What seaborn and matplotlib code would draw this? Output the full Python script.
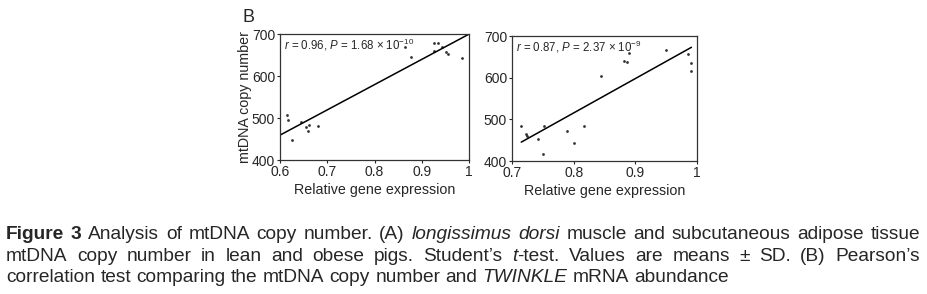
import numpy as np
import pandas as pd
import matplotlib
matplotlib.use("Agg")
import matplotlib.pyplot as plt
import seaborn as sns

# panel B, left: first tissue
left_x = [0.6155, 0.6176, 0.6246, 0.644, 0.655, 0.661, 0.660, 0.681,
          0.865, 0.878, 0.925, 0.935, 0.925, 0.943, 0.951, 0.955, 0.985]
left_y = [508, 495, 447, 490, 479, 483, 469, 481,
          668, 646, 678, 679, 659, 668, 657, 653, 643]
# panel B, right: second tissue
right_x = [0.715, 0.723, 0.725, 0.742, 0.752, 0.751, 0.789, 0.801, 0.817,
           0.845, 0.881, 0.887, 0.889, 0.949, 0.986, 0.991, 0.991]
right_y = [484, 466, 460, 452, 485, 418, 473, 443, 484,
           605, 640, 638, 659, 667, 658, 635, 617]

left_ticks = [0.6, 0.7, 0.8, 0.9, 1.0]
left_ticklabels = ["0.6", "0.7", "0.8", "0.9", "1"]
right_ticks = [0.7, 0.8, 0.9, 1.0]
right_ticklabels = ["0.7", "0.8", "0.9", "1"]
y_ticks = [400, 500, 600, 700]

left_note = r"$r$ = 0.96, $P$ = 1.68 × 10$^{-10}$"
right_note = r"$r$ = 0.87, $P$ = 2.37 × 10$^{-9}$"

sns.set_style("ticks")
plt.rcParams["font.family"] = ["Liberation Sans", "DejaVu Sans"]
plt.rcParams["mathtext.fontset"] = "custom"
plt.rcParams["mathtext.it"] = "Liberation Sans:italic"
plt.rcParams["mathtext.rm"] = "Liberation Sans"

W, H = 927, 294
fig = plt.figure(figsize=(W / 100, H / 100), dpi=100)

def px_axes(x0, y0, x1, y1):
    return fig.add_axes([x0 / W, 1 - y1 / H, (x1 - x0) / W, (y1 - y0) / H])

ax1 = px_axes(280, 34, 469, 160)
ax2 = px_axes(512, 36, 697, 161)

df1 = pd.DataFrame({"x": left_x, "y": left_y})
df2 = pd.DataFrame({"x": right_x, "y": right_y})

ax1.set_xlim(0.6, 1.0)
ax2.set_xlim(0.7, 1.0)
for ax, df, trunc in [(ax1, df1, False), (ax2, df2, True)]:
    sns.regplot(data=df, x="x", y="y", ax=ax, ci=None, truncate=trunc,
                color="black", scatter_kws={"s": 4, "linewidths": 0},
                line_kws={"lw": 1.1})
    ax.set_ylim(400, 700)
    ax.set_yticks(y_ticks)
    ax.tick_params(labelsize=10, length=2.5, width=0.8, pad=1)
    for s in ax.spines.values():
        s.set_linewidth(0.9)
        s.set_color("#333333")
    ax.set_xlabel("Relative gene expression", fontsize=10.3, labelpad=3)
    ax.set_ylabel("")

ax1.set_xticks(left_ticks)
ax1.set_xticklabels(left_ticklabels)
ax2.set_xticks(right_ticks)
ax2.set_xticklabels(right_ticklabels)
ax1.set_ylabel("mtDNA copy number", fontsize=10.3, labelpad=0)

ax1.text(0.02, 0.975, left_note, transform=ax1.transAxes, fontsize=8.3, va="top", ha="left")
ax2.text(0.02, 0.975, right_note, transform=ax2.transAxes, fontsize=8.3, va="top", ha="left")

fig.text(243 / W, 1 - 17 / H, "B", fontsize=13, ha="left", va="center")

# caption, laid out word by word so the first two lines are justified
cap_font = ["Liberation Sans", "DejaVu Sans"]
cap_size = 13.8

def words(s, weight="normal", style="normal"):
    return [[(w, weight, style)] for w in s.split()]

line1 = (words("Figure 3", "bold") + words("Analysis of mtDNA copy number. (A)")
         + words("longissimus dorsi", style="italic")
         + words("muscle and subcutaneous adipose tissue"))
line2 = (words("mtDNA copy number in lean and obese pigs. Student\u2019s")
         + [[("t", "normal", "italic"), ("-test.", "normal", "normal")]]
         + words("Values are means \u00b1 SD. (B) Pearson\u2019s"))
line3 = (words("correlation test comparing the mtDNA copy number and")
         + words("TWINKLE", style="italic") + words("mRNA abundance"))

renderer = fig.canvas.get_renderer()

def lay_line(tokens, ypx, x0=6, x1=920, justify=True):
    items = []
    total = 0
    for tok in tokens:
        parts = []
        w = 0
        for txt, wt, st in tok:
            t = fig.text(0, 1 - ypx / H, txt, fontsize=cap_size, family=cap_font,
                         fontweight=wt, fontstyle=st, ha="left", va="baseline")
            bw = t.get_window_extent(renderer).width
            parts.append((t, bw))
            w += bw
        items.append(parts)
        total += w
    if justify:
        gap = (x1 - x0 - total) / (len(tokens) - 1)
    else:
        gap = 0.278 * cap_size * 100 / 72
    x = x0
    for parts in items:
        for t, bw in parts:
            t.set_x(x / W)
            x += bw
        x += gap

lay_line(line1, 239)
lay_line(line2, 261)
lay_line(line3, 282, justify=False)

fig.savefig("out.png", dpi=100)
